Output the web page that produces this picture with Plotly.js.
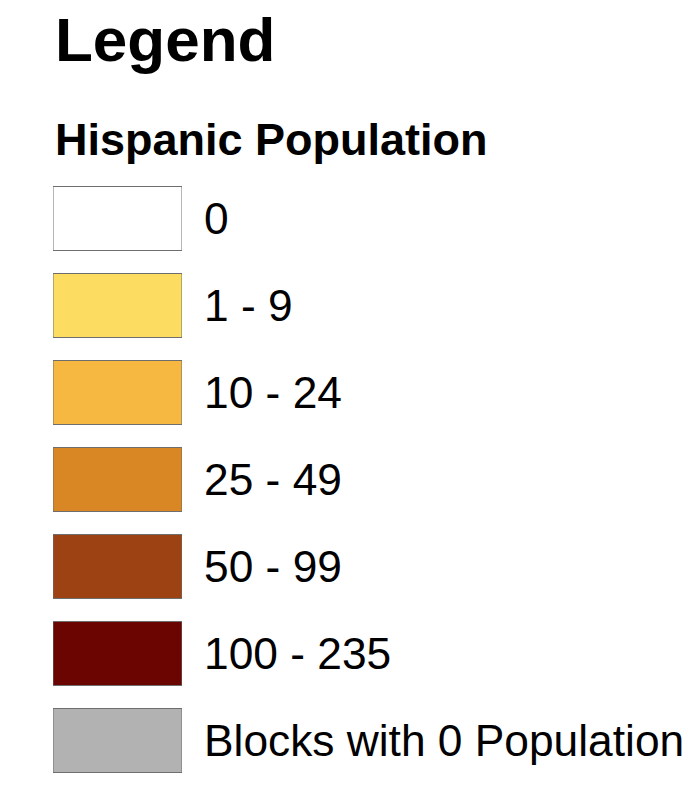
<!DOCTYPE html>
<html>
<head>
<meta charset="utf-8">
<script src="https://cdn.plot.ly/plotly-3.0.1.min.js"></script>
<style>html,body{margin:0;padding:0;background:#fff;}#chart{width:691px;height:793px;}</style>
</head>
<body>
<div id="chart"></div>
<script>
// Legend classes (top to bottom)
var classLabels = ["0", "1 - 9", "10 - 24", "25 - 49", "50 - 99", "100 - 235", "Blocks with 0 Population"];
var classColors = ["#FFFFFF", "#FCDD62", "#F6B841", "#D98624", "#9C4213", "#6B0501", "#B2B2B2"];
var swatchSize = [1, 1, 1, 1, 1, 1, 1];
var legendTitle = "Legend";
var legendSubtitle = "Hispanic Population";

var trace = {
  type: "bar",
  orientation: "h",
  y: classLabels,
  x: swatchSize,
  width: 0.7356,
  marker: {color: classColors, line: {color: "#6E6E6E", width: 1}},
  hoverinfo: "skip",
  showlegend: false
};

var layout = {
  width: 691, height: 793,
  margin: {l: 53, r: 509, t: 175, b: 9, pad: 0},
  paper_bgcolor: "#fff", plot_bgcolor: "#fff",
  font: {family: "Liberation Sans, Arial, sans-serif", color: "#000"},
  xaxis: {range: [0, 1], visible: false, fixedrange: true},
  yaxis: {
    type: "category", range: [6.5, -0.5], side: "right",
    showgrid: false, zeroline: false, showline: false, ticks: "",
    ticklabelstandoff: 21,
    tickfont: {size: 44.3, family: "Liberation Sans, Arial, sans-serif", color: "#000"},
    fixedrange: true
  },
  annotations: [
    {text: "<b>" + legendTitle + "</b>", xref: "paper", yref: "paper", x: 0, y: 1.2225, xanchor: "left", yanchor: "middle",
     showarrow: false, font: {size: 62, family: "Liberation Sans, Arial, sans-serif", color: "#000"}},
    {text: "<b>" + legendSubtitle + "</b>", xref: "paper", yref: "paper", x: 0, y: 1.0575, xanchor: "left", yanchor: "middle",
     showarrow: false, font: {size: 45, family: "Liberation Sans, Arial, sans-serif", color: "#000"}}
  ]
};

Plotly.newPlot("chart", [trace], layout, {staticPlot: true, displayModeBar: false});
</script>
</body>
</html>
